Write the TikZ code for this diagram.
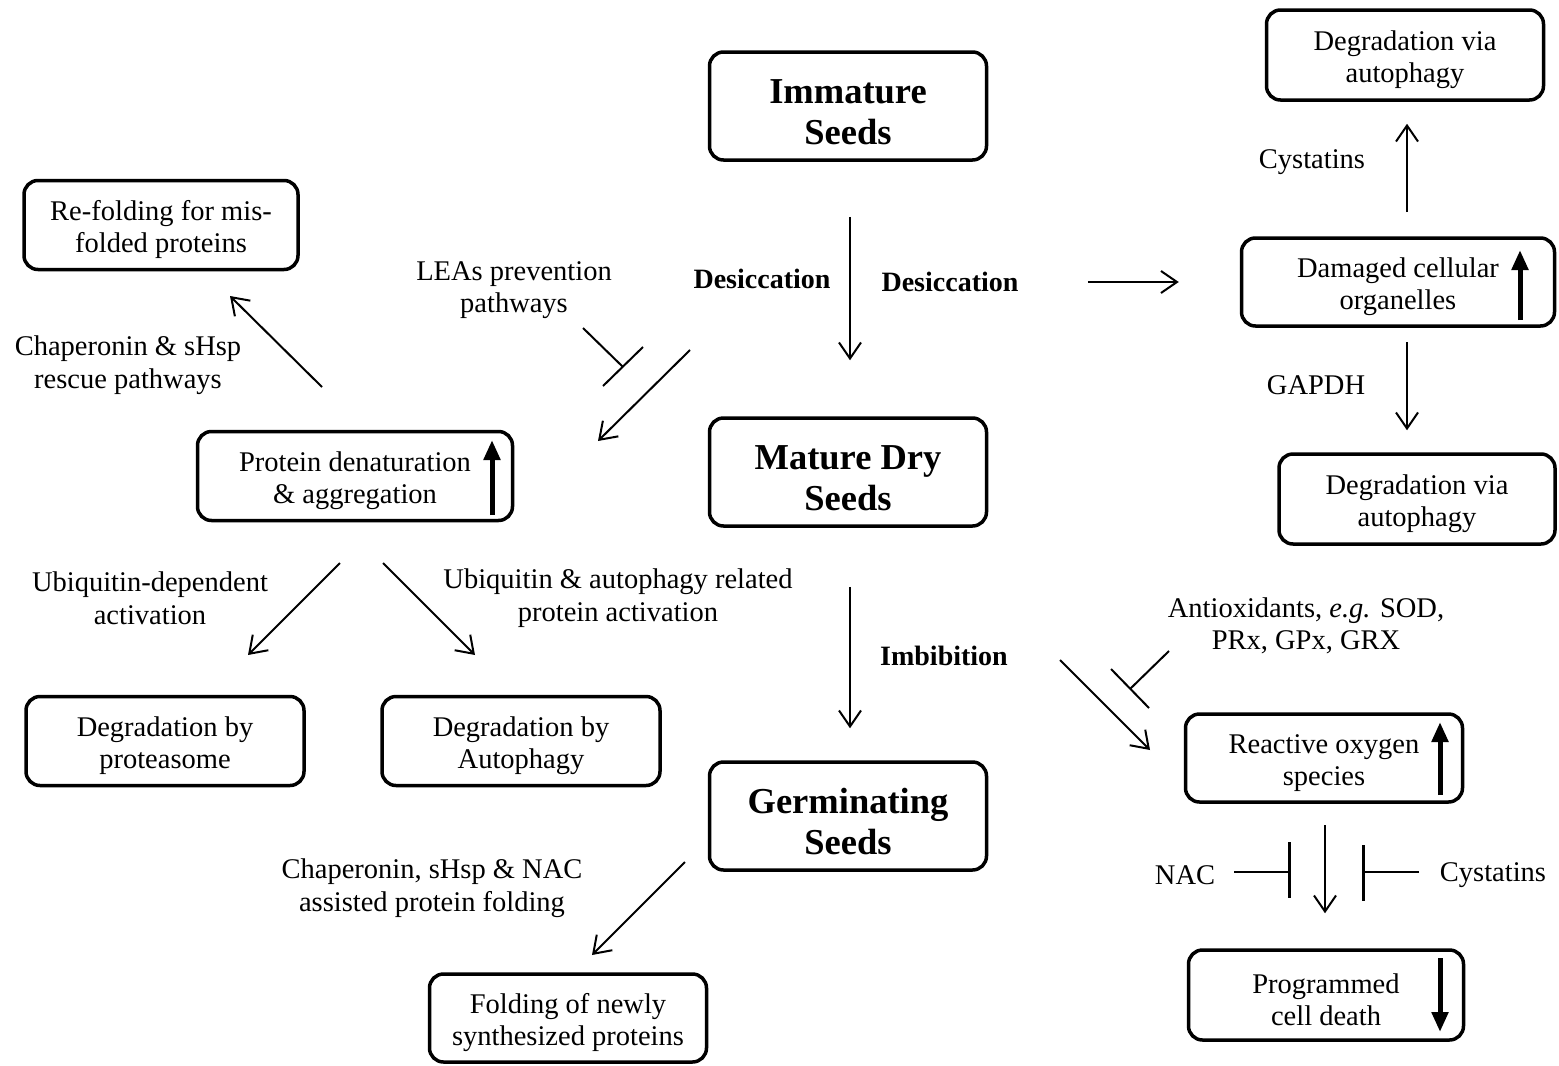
\documentclass[tikz,border=0pt]{standalone}
\usepackage{fontspec}
\setmainfont{Liberation Serif}
\usetikzlibrary{arrows.meta}
\begin{document}
\begin{tikzpicture}[x=1pt,y=-1pt,
 box/.style={draw, line width=3.5pt, rounded corners=14pt, align=center, font=\fontsize{28.5}{32.5}\selectfont, inner sep=0pt, text height=62pt},
 seed/.style={box, font=\fontsize{36.5}{41}\selectfont\bfseries, text height=77pt},
 lbl/.style={align=center, font=\fontsize{28.5}{32.5}\selectfont},
 blbl/.style={font=\fontsize{28}{30}\selectfont\bfseries},
 arr/.style={line width=2pt, -{Straight Barb[length=16pt,width=22pt,line width=2pt]}},
 inh/.style={line width=2pt},
 bar/.style={line width=3pt},
 big/.style={line width=5pt, -{Triangle[length=20pt,width=16pt]}},
]
\useasboundingbox (0,0) rectangle (1559,1066);
% main column
\node[seed, minimum width=277, minimum height=108] (imm) at (848,106) {Immature\\Seeds};
\node[seed, minimum width=277, minimum height=108] (mat) at (848,472) {Mature Dry\\Seeds};
\node[seed, minimum width=277, minimum height=108] (germ) at (848,816) {Germinating\\Seeds};
% right column
\node[box, minimum width=277, minimum height=90] (deg1) at (1405,55) {Degradation via\\autophagy};
\node[box, minimum width=313, minimum height=88] (dam) at (1398,282) {Damaged cellular\\organelles};
\node[box, minimum width=276, minimum height=90] (deg2) at (1417,499) {Degradation via\\autophagy};
\node[box, minimum width=277, minimum height=88] (ros) at (1324,758) {Reactive oxygen\\species};
\node[box, minimum width=275, minimum height=90] (pcd) at (1326,995) {Programmed\\cell death};
% left side
\node[box, minimum width=274, minimum height=89] (refold) at (161,225) {Re-folding for mis-\\folded proteins};
\node[box, minimum width=315, minimum height=89] (prot) at (355,476) {Protein denaturation\\\& aggregation};
\node[box, minimum width=278, minimum height=89] (prsm) at (165,741) {Degradation by\\proteasome};
\node[box, minimum width=278, minimum height=89] (autph) at (521,741) {Degradation by\\Autophagy};
\node[box, minimum width=277, minimum height=88] (fold) at (568,1018) {Folding of newly\\synthesized proteins};
% up/down indicators
\draw[big] (1520,320) -- (1520,250);
\draw[big] (492,515) -- (492,440);
\draw[big] (1440,795) -- (1440,722);
\draw[big] (1440,958) -- (1440,1032);
% labels
\node[blbl] (desL) at (762,279) {Desiccation};
\node[blbl] (desR) at (950,282) {Desiccation};
\node[blbl] (imb) at (944,656) {Imbibition};
\node[lbl] (lea) at (514,290) {LEAs prevention\\pathways};
\node[lbl] (chap) at (128,365) {Chaperonin \& sHsp\\rescue pathways};
\node[lbl] (ub1) at (150,598) {Ubiquitin-dependent\\activation};
\node[lbl] (ub2) at (618,598) {Ubiquitin \& autophagy related\\protein activation};
\node[lbl] (antiox) at (1306,626) {Antioxidants, \textit{e.g.} SOD,\\PRx, GPx, GRX};
\node[lbl] (chnac) at (432,888) {Chaperonin, sHsp \& NAC\\assisted protein folding};
\node[lbl] (cys1) at (1312,162) {Cystatins};
\node[lbl] (gapdh) at (1316,385) {GAPDH};
\node[lbl] (nac) at (1185,875) {NAC};
\node[lbl] (cys2) at (1493,875) {Cystatins};
% main connectors
\draw[arr, shorten <=55pt, shorten >=56pt] ([xshift=2pt]imm.south) -- ([xshift=2pt]mat.north);
\draw[arr, shorten <=59pt, shorten >=32pt] ([xshift=2pt]mat.south) -- ([xshift=2pt]germ.north);
\draw[arr, shorten <=66pt, shorten >=61pt] (desR.east) -- (dam.west);
% free arrows
\coordinate (d1) at (690,350); \coordinate (d2) at (598,441);
\draw[arr] (d1) -- (d2);
\coordinate (c1) at (322,387); \coordinate (c2) at (230,296);
\draw[arr] (c1) -- (c2);
\coordinate (u1) at (340,563); \coordinate (u2) at (248,655);
\draw[arr] (u1) -- (u2);
\coordinate (v1) at (383,563); \coordinate (v2) at (475,655);
\draw[arr] (v1) -- (v2);
\coordinate (i1) at (1060,660); \coordinate (i2) at (1150,750);
\draw[arr] (i1) -- (i2);
\coordinate (g1) at (685,862); \coordinate (g2) at (592,955);
\draw[arr] (g1) -- (g2);
\coordinate (k1) at (1407,212);
\draw[arr, shorten >=22pt] (k1) -- (k1 |- deg1.south);
\coordinate (k2) at (1407,342);
\draw[arr, shorten >=22pt] (k2) -- (k2 |- deg2.north);
\coordinate (r1) at (1325,825);
\draw[arr, shorten >=35pt] (r1) -- (r1 |- pcd.north);
% inhibitions
\coordinate (l1) at (583,328); \coordinate (l2) at (623,367);
\draw[inh] (l1) -- (l2);
\draw[inh] (603,386) -- (643,347);
\coordinate (a1) at (1169,651); \coordinate (a2) at (1130,689);
\draw[inh] (a1) -- (a2);
\draw[inh] (1111,669) -- (1149,708);
\coordinate (n1) at (1234,872); \coordinate (n2) at (1289,872);
\draw[inh] (n1) -- (n2);
\draw[bar] (1289,842) -- (1289,898);
\coordinate (s1) at (1419,872); \coordinate (s2) at (1363,872);
\draw[inh] (s1) -- (s2);
\draw[bar] (1363,845) -- (1363,901);
\end{tikzpicture}
\end{document}
